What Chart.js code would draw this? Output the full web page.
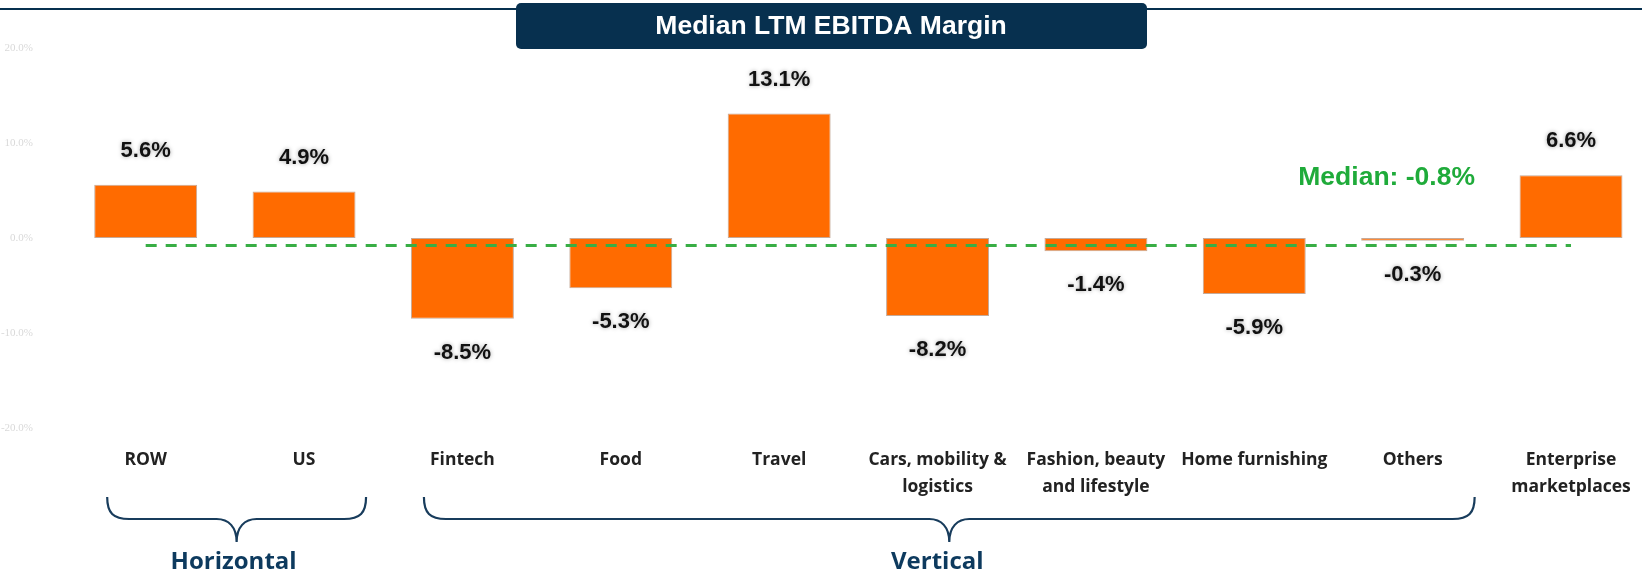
<!DOCTYPE html>
<html>
<head>
<meta charset="utf-8">
<title>Median LTM EBITDA Margin</title>
<script src="https://cdn.jsdelivr.net/npm/chart.js@4/dist/chart.umd.min.js"></script>
<style>
  html, body { margin: 0; padding: 0; background: #fff; overflow: hidden; }
  #wrap { position: relative; width: 1660px; height: 573px; }
</style>
</head>
<body>
<div id="wrap"><canvas id="chart" width="1660" height="573"></canvas></div>
<script>
// Median LTM EBITDA margin by marketplace segment (%)
const categories = [
  'ROW', 'US', 'Fintech', 'Food', 'Travel',
  ['Cars, mobility &', 'logistics'],
  ['Fashion, beauty', 'and lifestyle'],
  'Home furnishing', 'Others',
  ['Enterprise', 'marketplaces']
];
const margins = [5.6, 4.9, -8.5, -5.3, 13.1, -8.2, -1.4, -5.9, -0.3, 6.6];
const medianMargin = -0.8;
const yTicks = [-20, -10, 0, 10, 20];

// category groups shown with a brace under the axis
const groupLabels = ['Horizontal', 'Vertical'];
const groupFirst = [0, 2];
const groupLast = [1, 8];

const NAVY = '#07304f';
const ORANGE = '#ff6b00';
const GREEN = '#38ae45';
const fmtPct = v => v.toFixed(1) + '%';

// navy rule across the top with the title box over it
const headerPlugin = {
  id: 'header',
  afterDraw(chart) {
    const ctx = chart.ctx;
    ctx.save();
    ctx.strokeStyle = NAVY;
    ctx.lineWidth = 2;
    ctx.beginPath();
    ctx.moveTo(0, 9);
    ctx.lineTo(chart.width, 9);
    ctx.stroke();

    ctx.fillStyle = NAVY;
    ctx.beginPath();
    ctx.roundRect(516, 3, 631, 46, 5);
    ctx.fill();

    ctx.fillStyle = '#fff';
    ctx.font = 'bold 26.5px "Liberation Sans", Arial, sans-serif';
    ctx.textAlign = 'center';
    ctx.textBaseline = 'middle';
    ctx.fillText('Median LTM EBITDA Margin', 831, 27);
    ctx.restore();
  }
};

// value labels above / below each bar
const valueLabels = {
  id: 'valueLabels',
  afterDatasetsDraw(chart) {
    const ctx = chart.ctx;
    const meta = chart.getDatasetMeta(0);
    ctx.save();
    ctx.font = 'bold 22px "Liberation Sans", Arial, sans-serif';
    ctx.textAlign = 'center';
    ctx.textBaseline = 'middle';
    ctx.fillStyle = '#111';
    ctx.shadowColor = 'rgba(0,0,0,0.35)';
    ctx.shadowBlur = 4;
    meta.data.forEach((bar, i) => {
      const v = margins[i];
      const y = v >= 0 ? bar.y - 34 : bar.y + 34;
      ctx.fillText(fmtPct(v), bar.x, y);
    });
    ctx.restore();
  }
};

// dashed median line from first to last category, with its label
const medianPlugin = {
  id: 'medianLine',
  afterDatasetsDraw(chart) {
    const { ctx, scales: { x, y } } = chart;
    const yPix = y.getPixelForValue(medianMargin);
    ctx.save();
    ctx.strokeStyle = GREEN;
    ctx.lineWidth = 3;
    ctx.setLineDash([11, 9]);
    ctx.beginPath();
    ctx.moveTo(x.getPixelForValue(0), yPix);
    ctx.lineTo(x.getPixelForValue(margins.length - 1), yPix);
    ctx.stroke();

    ctx.setLineDash([]);
    ctx.fillStyle = '#1fab3a';
    ctx.font = 'bold 26.5px "Liberation Sans", Arial, sans-serif';
    ctx.textAlign = 'center';
    ctx.textBaseline = 'middle';
    ctx.fillText('Median: ' + fmtPct(medianMargin), x.getPixelForValue(8) - 26, yPix - 68);
    ctx.restore();
  }
};

function drawBrace(ctx, x1, x2, yTop, yMid, yTip) {
  const cx = (x1 + x2) / 2;
  const r = 22;
  ctx.beginPath();
  ctx.moveTo(x1, yTop);
  ctx.bezierCurveTo(x1, yMid - 6, x1 + 6, yMid, x1 + r, yMid);
  ctx.lineTo(cx - 20, yMid);
  ctx.bezierCurveTo(cx - 8, yMid, cx, yMid + 8, cx, yTip);
  ctx.moveTo(x2, yTop);
  ctx.bezierCurveTo(x2, yMid - 6, x2 - 6, yMid, x2 - r, yMid);
  ctx.lineTo(cx + 20, yMid);
  ctx.bezierCurveTo(cx + 8, yMid, cx, yMid + 8, cx, yTip);
  ctx.stroke();
}

const bracePlugin = {
  id: 'groupBraces',
  afterDraw(chart) {
    const { ctx, scales: { x } } = chart;
    const labelShift = [-3, -12];
    ctx.save();
    ctx.strokeStyle = '#183c5c';
    ctx.lineWidth = 2.2;
    ctx.fillStyle = '#0d3a5e';
    ctx.font = 'bold 24px "Open Sans", sans-serif';
    ctx.textAlign = 'center';
    ctx.textBaseline = 'middle';
    groupLabels.forEach((label, g) => {
      const x1 = x.getPixelForValue(groupFirst[g]) - 38.5;
      const x2 = x.getPixelForValue(groupLast[g]) + 62;
      drawBrace(ctx, x1, x2, 497, 519, 542);
      ctx.fillText(label, (x1 + x2) / 2 + labelShift[g], 562);
    });
    ctx.restore();
  }
};

new Chart(document.getElementById('chart'), {
  type: 'bar',
  data: {
    labels: categories,
    datasets: [{
      data: margins,
      backgroundColor: ORANGE,
      borderColor: 'rgba(150,100,70,0.55)',
      borderWidth: 1,
      borderSkipped: false,
      categoryPercentage: 1,
      barPercentage: 0.65
    }]
  },
  options: {
    responsive: false,
    animation: false,
    layout: { padding: { top: 48, right: 9.8, bottom: 0, left: 0 } },
    plugins: {
      legend: { display: false },
      tooltip: { enabled: false }
    },
    scales: {
      x: {
        grid: { display: false, drawTicks: false },
        border: { display: false },
        ticks: {
          color: '#222',
          padding: 18,
          maxRotation: 0,
          autoSkip: false,
          font: { family: '"Open Sans", sans-serif', size: 17.5, weight: 'bold', lineHeight: 1.55 }
        },
        afterFit(scale) { scale.height = 145; }
      },
      y: {
        min: yTicks[0],
        max: yTicks[yTicks.length - 1],
        grid: { display: false, drawTicks: false },
        border: { display: false },
        afterBuildTicks(scale) { scale.ticks = yTicks.map(v => ({ value: v })); },
        ticks: {
          color: '#d9d9d9',
          padding: 33.5,
          font: { family: '"Liberation Serif", serif', size: 11 },
          callback: v => fmtPct(v)
        },
        afterFit(scale) { scale.width = 66.5; }
      }
    }
  },
  plugins: [headerPlugin, valueLabels, medianPlugin, bracePlugin]
});
</script>
</body>
</html>
